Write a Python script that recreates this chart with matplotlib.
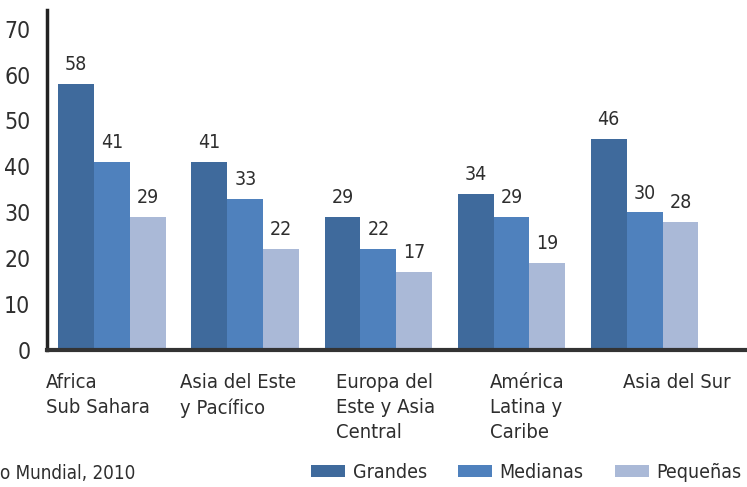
import matplotlib
matplotlib.use("Agg")
import matplotlib.pyplot as plt
import numpy as np

plt.rcParams['font.family'] = ['DejaVu Sans']
plt.rcParams['font.stretch'] = 'condensed'

# Data
regions = ['Africa\nSub Sahara', 'Asia del Este\ny Pacífico', 'Europa del\nEste y Asia\nCentral',
           'América\nLatina y\nCaribe', 'Asia del Sur']
grandes = [58, 41, 29, 34, 46]
medianas = [41, 33, 22, 29, 30]
pequenas = [29, 22, 17, 19, 28]
series_names = ['Grandes', 'Medianas', 'Pequeñas']
source_text = 'o Mundial, 2010'

# Style
colors = ['#3F6A9C', '#4F81BD', '#AAB9D7']
text_color = '#2e2e2e'
bar_w = 0.27
label_shift = [-0.5, -0.49, -0.32, -0.16, -0.16]

fig = plt.figure(figsize=(7.47, 4.87), dpi=100)
ax = fig.add_axes([0.063, 0.281, 0.937, 0.698])

x = np.arange(len(regions))
for i, (vals, c) in enumerate(zip([grandes, medianas, pequenas], colors)):
    bars = ax.bar(x + (i - 1) * bar_w, vals, bar_w, color=c, label=series_names[i])
    for b, v in zip(bars, vals):
        ax.annotate(str(v), (b.get_x() + b.get_width() / 2, v), xytext=(0, 7),
                    textcoords='offset points', ha='center', va='bottom',
                    fontsize=14, color=text_color)

ax.set_xlim(-0.49, 4.77)
ax.set_ylim(0, 74)
ax.set_yticks(np.arange(0, 71, 10))
ax.tick_params(axis='y', length=0, pad=12, labelsize=16.5, labelcolor=text_color)
ax.set_xticks([])

for s in ['top', 'right']:
    ax.spines[s].set_visible(False)
ax.spines['left'].set_linewidth(2.5)
ax.spines['left'].set_color('#222222')
ax.spines['bottom'].set_linewidth(3)
ax.spines['bottom'].set_color('#333333')

# category labels, left aligned under each group
for xi, (name, sh) in enumerate(zip(regions, label_shift)):
    ax.text(xi + sh, -5, name, ha='left', va='top', fontsize=14.5,
            color=text_color, linespacing=1.4, clip_on=False)

fig.text(0.0, 0.008, source_text, ha='left', va='bottom', fontsize=13.5, color=text_color)

fig.legend(loc='lower left', bbox_to_anchor=(0.403, -0.01), ncol=3, frameon=False,
           fontsize=14, handlelength=1.75, handleheight=0.6, handletextpad=0.4,
           columnspacing=1.6, borderpad=0, labelcolor=text_color)

fig.savefig('out.png', dpi=100)
